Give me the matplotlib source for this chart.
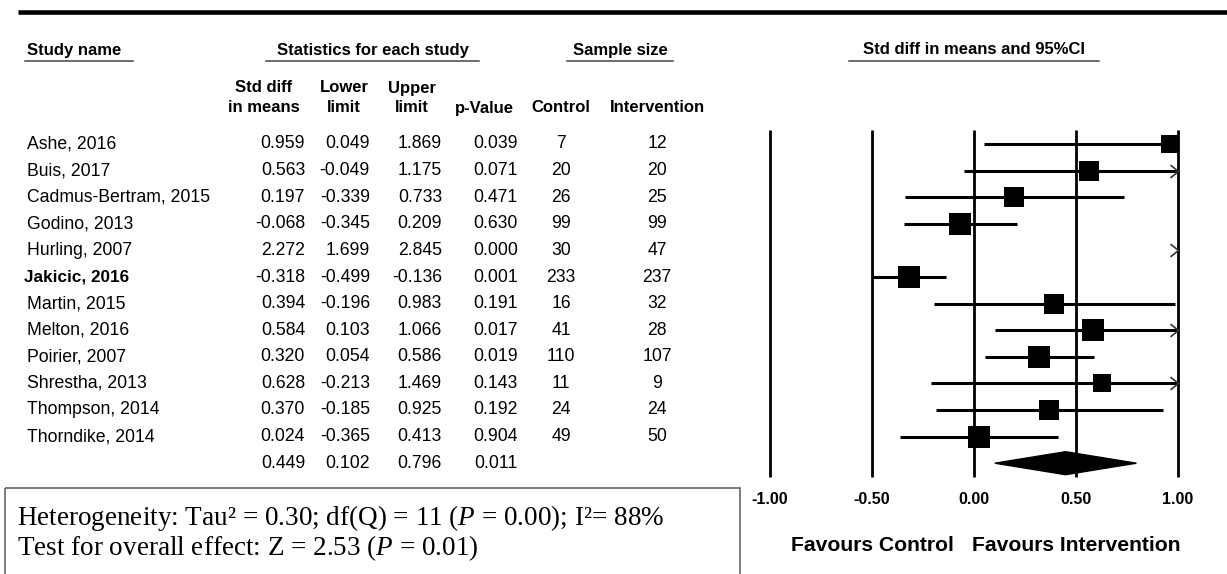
import matplotlib.pyplot as plt
import numpy as np
from matplotlib import font_manager
from matplotlib.patches import Polygon, Rectangle
from matplotlib.path import Path

# ---- data ----
studies = ["Ashe, 2016", "Buis, 2017", "Cadmus-Bertram, 2015", "Godino, 2013",
           "Hurling, 2007", "Jakicic, 2016", "Martin, 2015", "Melton, 2016",
           "Poirier, 2007", "Shrestha, 2013", "Thompson, 2014", "Thorndike, 2014"]
smd = [0.959, 0.563, 0.197, -0.068, 2.272, -0.318, 0.394, 0.584, 0.320, 0.628, 0.370, 0.024]
lower = [0.049, -0.049, -0.339, -0.345, 1.699, -0.499, -0.196, 0.103, 0.054, -0.213, -0.185, -0.365]
upper = [1.869, 1.175, 0.733, 0.209, 2.845, -0.136, 0.983, 1.066, 0.586, 1.469, 0.925, 0.413]
p_value = [0.039, 0.071, 0.471, 0.630, 0.000, 0.001, 0.191, 0.017, 0.019, 0.143, 0.192, 0.904]
n_control = [7, 20, 26, 99, 30, 233, 16, 41, 110, 11, 24, 49]
n_intervention = [12, 20, 25, 99, 47, 237, 32, 28, 107, 9, 24, 50]
# relative weights (%), judged from the size of the boxes
weight = [6.0, 7.8, 8.3, 9.7, 8.0, 10.1, 7.9, 8.6, 9.8, 6.4, 8.2, 9.2]
bold_rows = ["Jakicic, 2016"]

pooled_smd = 0.449
pooled_lower = 0.102
pooled_upper = 0.796
pooled_p = 0.011

ticks = [-1.0, -0.5, 0.0, 0.5, 1.0]
favours = ["Favours Control", "Favours Intervention"]

heterogeneity = "Heterogeneity: Tau² = 0.30; df(Q) = 11 ($P$ = 0.00); I²= 88%"
overall = "Test for overall effect: Z = 2.53 ($P$ = 0.01)"

# ---- fonts ----
plt.rcParams["font.family"] = "Liberation Sans"
plt.rcParams["mathtext.fontset"] = "custom"
plt.rcParams["mathtext.rm"] = "Liberation Serif"
plt.rcParams["mathtext.it"] = "Liberation Serif:italic"

try:
    font_manager.findfont(font_manager.FontProperties(family="Liberation Sans Narrow"),
                          fallback_to_default=False)
    HEAD = dict(family="Liberation Sans Narrow", weight="bold")
    hs, ts, fs = 14.5, 14.0, 18.5
except ValueError:
    HEAD = dict(family="Liberation Sans", weight="bold")
    hs, ts, fs = 12.0, 11.5, 15.2

W, H = 1227, 574
fig = plt.figure(figsize=(W / 100, H / 100), dpi=100)
bg = fig.add_axes([0, 0, 1, 1])
bg.set_xlim(0, W)
bg.set_ylim(H, 0)
bg.axis("off")

ROW0, DROW = 144, 26.6


def row_y(i):
    return ROW0 + DROW * i


# top rule
bg.plot([18, W], [11.5, 11.5], color="k", lw=3.3, solid_capstyle="butt")

# column headers with underlines
for txt, x0, x1, ha in [("Study name", 25, 133, "left"),
                        ("Statistics for each study", 266, 479, "center"),
                        ("Sample size", 567, 673, "center"),
                        ("Std diff in means and 95%CI", 849, 1099, "center")]:
    tx = 27 if ha == "left" else (x0 + x1) / 2
    bg.text(tx, 50, txt, ha=ha, va="center", fontsize=hs, **HEAD)
    bg.plot([x0, x1], [61, 61], color="#444", lw=1.1)

for top, bot, cx in [("Std diff", "in means", 264), ("Lower", "limit", 344),
                     ("Upper", "limit", 412), ("", "p-Value", 484),
                     ("", "Control", 561), ("", "Intervention", 657)]:
    if top:
        bg.text(cx, 88, top, ha="center", va="center", fontsize=hs, **HEAD)
    bg.text(cx, 108, bot, ha="center", va="center", fontsize=hs, **HEAD)

# table body
for i, name in enumerate(studies):
    y = row_y(i)
    if name in bold_rows:
        bg.text(24, y, name, ha="left", va="center", fontsize=12.3, weight="bold")
    else:
        bg.text(27, y, name, ha="left", va="center", fontsize=12.7)
    for val, xr in [(smd[i], 305), (lower[i], 370), (upper[i], 442), (p_value[i], 518)]:
        bg.text(xr, y, f"{val:.3f}", ha="right", va="center", fontsize=12.7)
    bg.text(561, y, str(n_control[i]), ha="center", va="center", fontsize=12.7)
    bg.text(657, y, str(n_intervention[i]), ha="center", va="center", fontsize=12.7)

ys = row_y(len(studies))
for val, xr in [(pooled_smd, 305), (pooled_lower, 370), (pooled_upper, 442), (pooled_p, 518)]:
    bg.text(xr, ys, f"{val:.3f}", ha="right", va="center", fontsize=12.7)

# statistics box
bg.add_patch(Rectangle((5, 488), 735, 120, fill=False, ec="#666", lw=1.2))
bg.text(17, 518, heterogeneity, ha="left", va="center", fontsize=19.5, family="Liberation Serif")
bg.text(17, 548, overall, ha="left", va="center", fontsize=19.5, family="Liberation Serif")

# ---- forest plot ----
fx0, fx1, fy0, fy1 = 770, 1178, 130, 477
ax = fig.add_axes([fx0 / W, 1 - fy1 / H, (fx1 - fx0) / W, (fy1 - fy0) / H])
ax.set_xlim(-1, 1)
ax.set_ylim(fy1, fy0)
ax.axis("off")

ax.vlines(ticks, fy0, fy1, color="k", lw=2.0, clip_on=False)

chevron = Path([(-1, 0.8), (0, 0), (-1, -0.8)], [Path.MOVETO, Path.LINETO, Path.LINETO])

for i in range(len(studies)):
    y = row_y(i)
    lo, hi = max(lower[i], -1), min(upper[i], 1)
    if lo < hi:
        ax.plot([lo, hi], [y, y], color="k", lw=2.2, solid_capstyle="butt", clip_on=False)
    if upper[i] > 1:
        ax.plot(1, y, marker=chevron, ms=11.5, mfc="none", mec="#333", mew=1.2, clip_on=False)
    if -1 <= smd[i] <= 1:
        ax.plot(smd[i], y, marker="s", ms=5.2 * np.sqrt(weight[i]), color="k", mew=0,
                clip_on=False)

ax.add_patch(Polygon([(pooled_lower, ys), (pooled_smd, ys - 11.5),
                      (pooled_upper, ys), (pooled_smd, ys + 11.5)],
                     closed=True, color="k", clip_on=False))

for t in ticks:
    ax.text(t, 500, f"{t:.2f}", ha="center", va="center", fontsize=ts, clip_on=False, **HEAD)

for t, lab in zip([-0.5, 0.5], favours):
    ax.text(t, 546, lab, ha="center", va="center", fontsize=fs, clip_on=False, **HEAD)

fig.savefig("out.png", dpi=100)
